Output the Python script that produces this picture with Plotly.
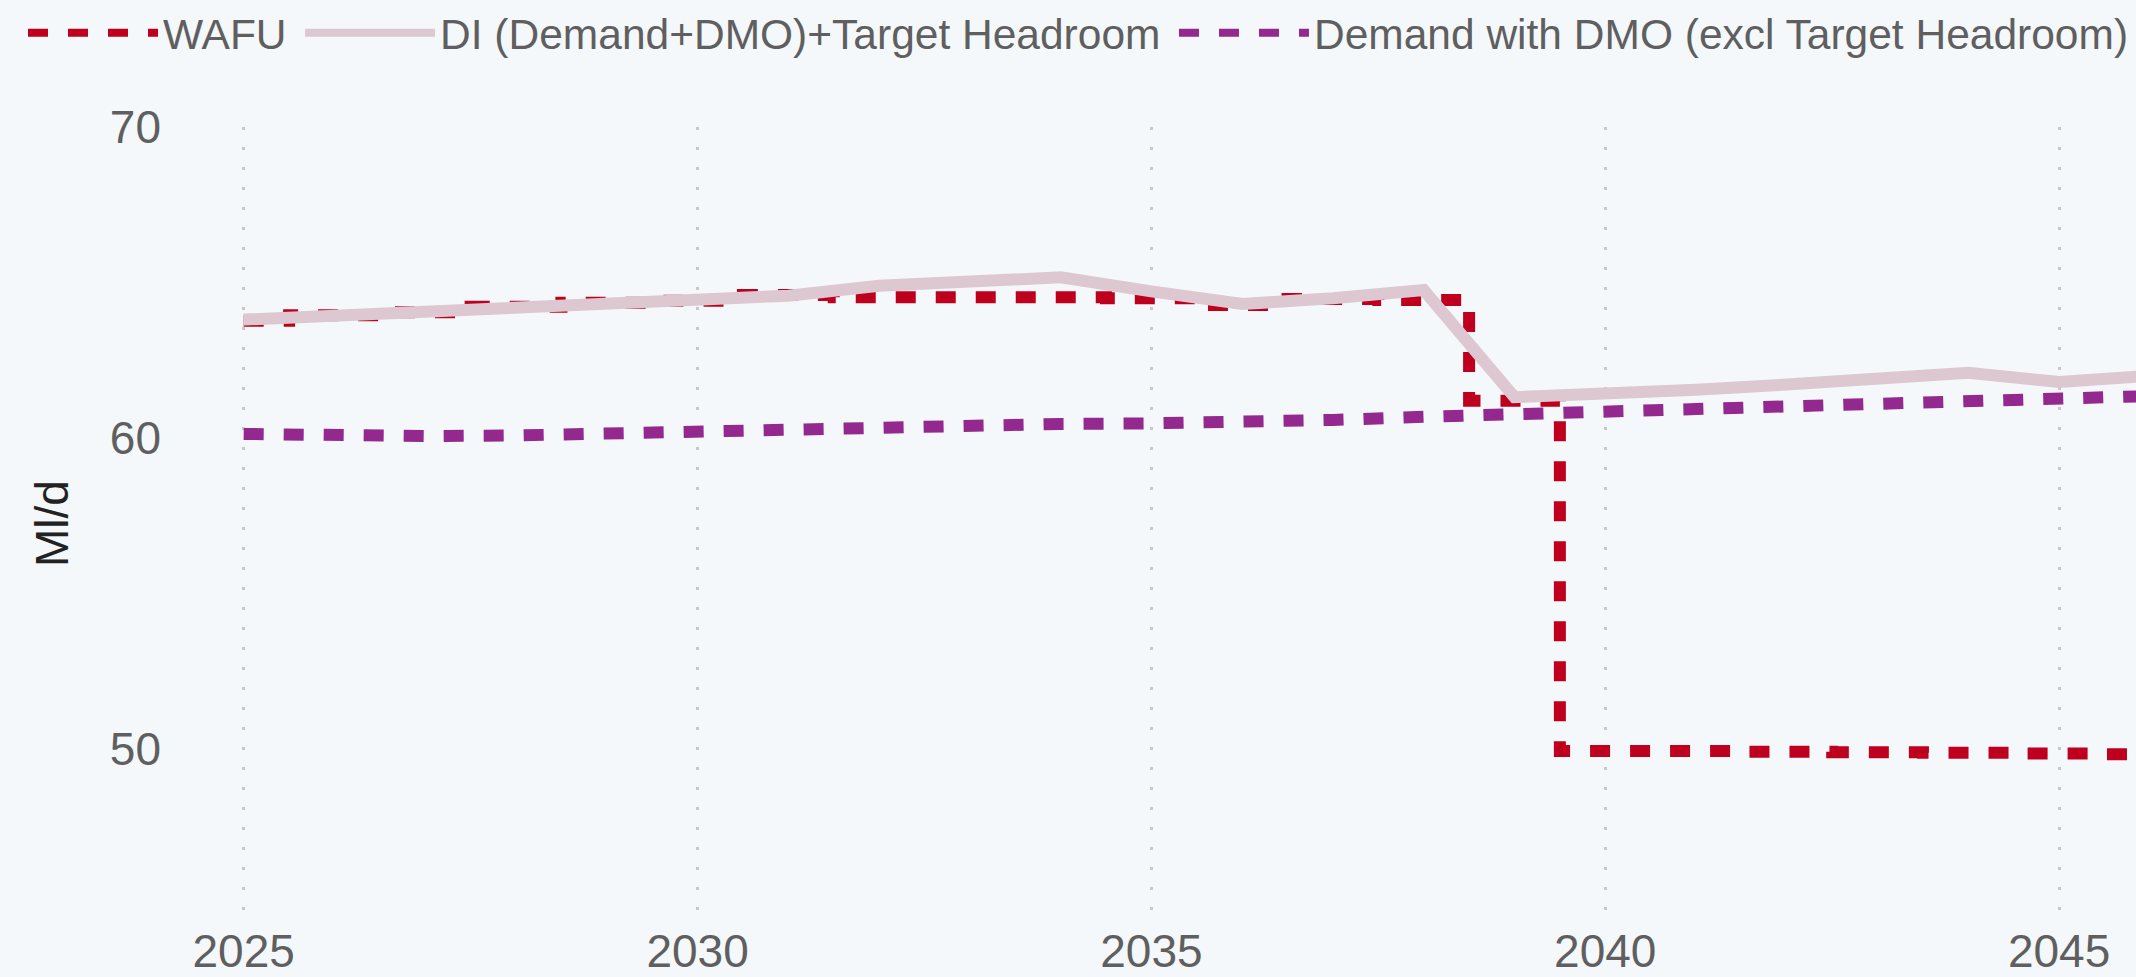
import plotly.graph_objects as go

years = list(range(2025, 2047))
wafu = [63.77, 63.95, 64.05, 64.22, 64.35, 64.42, 64.6, 64.53, 64.53, 64.53,
        64.5, 64.28, 64.47, 64.44, 61.2, 49.92, 49.92, 49.9, 49.88, 49.87,
        49.84, 49.82]
di = [63.81, 63.94, 64.08, 64.21, 64.33, 64.42, 64.58, 64.9, 65.04, 65.17,
      64.72, 64.31, 64.5, 64.76, 61.31, 61.4, 61.55, 61.72, 61.9, 62.1,
      61.8, 62.0]
dmo = [60.13, 60.08, 60.06, 60.08, 60.15, 60.18, 60.2, 60.29, 60.4, 60.45,
       60.47, 60.5, 60.58, 60.68, 60.77, 60.82, 60.9, 60.98, 61.06, 61.15,
       61.25, 61.35]

names = ["WAFU", "DI (Demand+DMO)+Target Headroom",
         "Demand with DMO (excl Target Headroom)"]
RED = "#be001e"
PINK = "#ddc8d1"
PURPLE = "#93288e"
BG = "#f4f8fb"
DASH = "20px,20px"
FONT = "Arial, Liberation Sans, sans-serif"
THIN = "\u2009"

fig = go.Figure()
fig.add_trace(go.Scatter(x=years, y=wafu, mode="lines", name=names[0],
                         line=dict(color=RED, width=12, dash=DASH, shape="hvh"),
                         showlegend=False))
fig.add_trace(go.Scatter(x=years, y=di, mode="lines", name=names[1],
                         line=dict(color=PINK, width=12), showlegend=False))
fig.add_trace(go.Scatter(x=years, y=dmo, mode="lines", name=names[2],
                         line=dict(color=PURPLE, width=12, dash=DASH),
                         showlegend=False))
# legend entries
for nm, col, dsh in [(names[0] + THIN, RED, DASH), (names[1] + THIN, PINK, "solid"),
                     (names[2], PURPLE, DASH)]:
    fig.add_trace(go.Scatter(x=[None], y=[None], mode="lines", name=nm,
                             line=dict(color=col, width=8, dash=dsh)))

W, H = 2136, 977
left, top, bottom = 162, 127, 920
px_per_year = 90.77
px_per_unit = 31.065
x0 = 2025 - (243.7 - left) / px_per_year
x1 = x0 + (W - left) / px_per_year
y1 = 70 + (top - 126.7) / px_per_unit
y0 = y1 - (bottom - top) / px_per_unit
plot_w = W - left
plot_h = bottom - top

fig.update_layout(
    width=W, height=H,
    margin=dict(l=left, r=0, t=top, b=H - bottom, autoexpand=False),
    paper_bgcolor=BG, plot_bgcolor=BG,
    font=dict(family=FONT, color="#5f5f5f", size=46),
    showlegend=True,
    legend=dict(orientation="h",
                x=(23 - left) / plot_w, y=1 + (top - 33) / plot_h,
                xanchor="left", yanchor="middle",
                font=dict(size=42.5, color="#5f5f5f", family=FONT),
                itemwidth=130, bgcolor="rgba(0,0,0,0)", tracegroupgap=0),
    xaxis=dict(range=[x0, x1], tick0=2025, dtick=5, showgrid=True,
               gridcolor="#c8c8c8", gridwidth=2.5, griddash="2.5px,17.5px",
               zeroline=False, showline=False, ticks="",
               tickfont=dict(size=46, color="#5f5f5f")),
    yaxis=dict(range=[y0, y1], tickvals=[50, 60, 70], showgrid=False,
               zeroline=False, showline=False, ticks="",
               tickfont=dict(size=46, color="#5f5f5f"),
               title=dict(text="Ml/d", font=dict(size=46, color="#222222"),
                          standoff=26)),
)

fig.write_html(
    "out.html",
    config={"displayModeBar": False},
    post_script=("document.body.style.margin='0';"
                 "document.body.style.background='" + BG + "';"),
)
